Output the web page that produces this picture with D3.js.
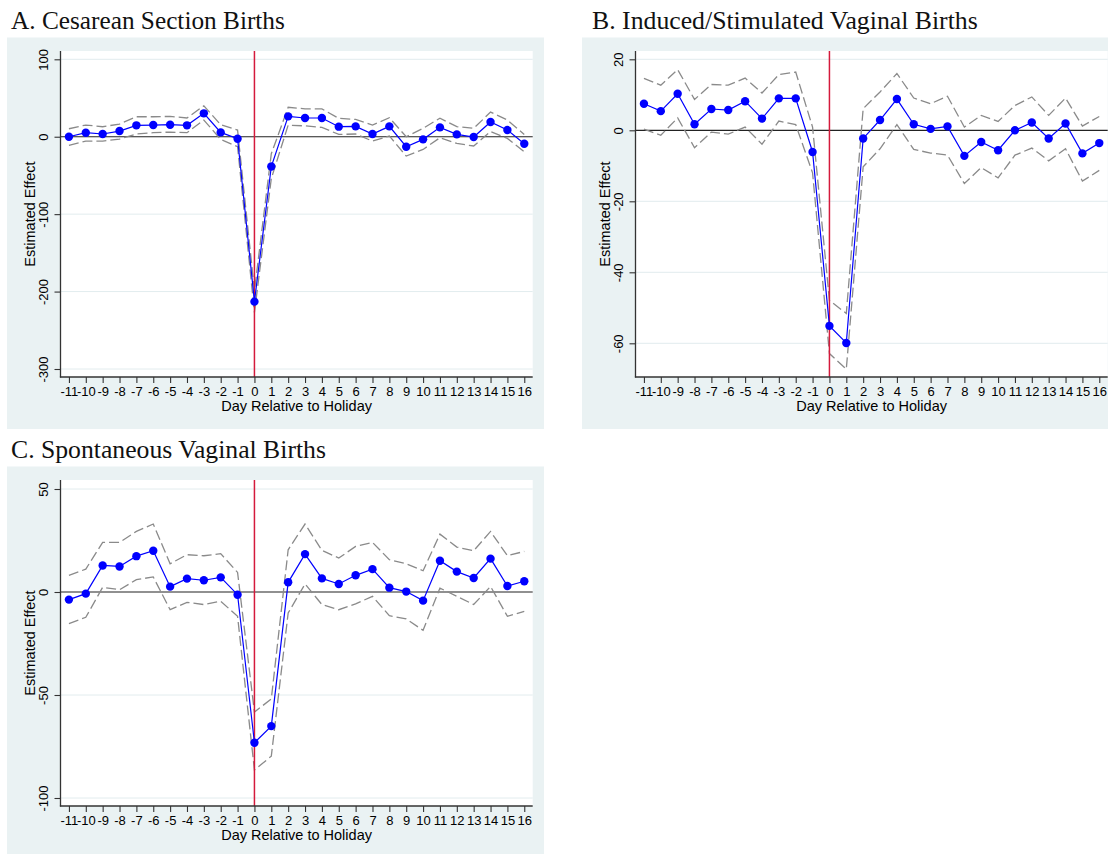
<!DOCTYPE html>
<html><head><meta charset="utf-8">
<script src="https://cdn.jsdelivr.net/npm/d3@7"></script>
<style>body{margin:0;background:#fff;overflow:hidden} svg{display:block}</style>
</head><body><svg id="c" width="1108" height="854"></svg>
<script>
// ---- data ----
const days = [-11,-10,-9,-8,-7,-6,-5,-4,-3,-2,-1,0,1,2,3,4,5,6,7,8,9,10,11,12,13,14,15,16];

const titleA = "A. Cesarean Section Births";
const estA   = [0, 5.2, 3.5, 7.3, 14.7, 15.1, 15.5, 14.7, 30.2, 5.6, -2.6, -213, -38.5, 26.3, 24.2, 24.2, 13, 13.4, 3.5, 13.4, -12.9, -3.4, 12.1, 3, -0.4, 19, 8.6, -9];
const upperA = [10.3, 15.1, 12.9, 16.4, 25.8, 25.8, 26.3, 24.2, 40, 15.5, 8.6, -199, -22, 38, 36, 36, 23.7, 22.4, 15, 24.5, 0, 10.8, 24, 13, 10.8, 31.8, 21.6, 3];
const lowerA = [-11.2, -5.6, -5.6, -3, 3.5, 5.2, 6, 5.2, 21.5, -3.4, -12.9, -227, -54, 15, 14, 12, 3, 3.5, -5.6, 1, -25, -16.4, -1.3, -8.6, -12, 6.8, -2.2, -19.4];
const yTicksA = [100, 0, -100, -200, -300];

const titleB = "B. Induced/Stimulated Vaginal Births";
const estB   = [7.5, 5.4, 10.3, 1.7, 6.0, 5.7, 8.2, 3.3, 9.0, 9.0, -6.1, -55.1, -59.9, -2.3, 2.9, 8.8, 1.7, 0.4, 1.1, -7.2, -3.3, -5.6, 0, 2.2, -2.3, 1.9, -6.5, -3.6];
const upperB = [14.6, 12.7, 17.1, 8.7, 12.9, 12.7, 14.7, 10.5, 15.7, 16.4, 0.9, -47.9, -51.6, 6.1, 10.8, 16, 9.1, 7.5, 9.6, 0.9, 4.2, 2.5, 7, 9.4, 4.2, 9.1, 1.2, 3.9];
const lowerB = [0.3, -1.4, 3.5, -4.9, -0.5, -1.1, 0.9, -3.9, 2.6, 1.6, -12, -62.9, -67.3, -10.3, -5.2, 1.6, -5.4, -6.4, -7, -15, -10.5, -13.4, -7, -5, -8.6, -5.2, -14.3, -11.3];
const yTicksB = [20, 0, -20, -40, -60];

const titleC = "C. Spontaneous Vaginal Births";
const estC   = [-3.7, -0.8, 12.9, 12.4, 17.4, 20, 2.6, 6.5, 5.7, 7.1, -1.3, -73.2, -65.1, 4.7, 18.4, 6.6, 3.9, 8.1, 11.1, 2.1, 0.2, -4.2, 15.2, 9.9, 6.8, 16.2, 2.9, 5.2];
const upperC = [8.1, 11.1, 24.1, 24.1, 29.4, 33, 13.7, 18.1, 17.6, 18.6, 9.5, -58.3, -51.9, 20.5, 33, 20.2, 16.5, 22.1, 24.1, 15.7, 13.7, 10.3, 28.1, 21.8, 20, 29.4, 17.6, 19.7];
const lowerC = [-15.3, -12.3, 2.3, 1.1, 6, 7.3, -8.6, -5, -6.1, -4.5, -11.8, -86.4, -79.7, -10.2, 3.9, -6.1, -8.6, -5.8, -2.1, -11.5, -13.1, -18.6, 1.9, -2.1, -6.1, 2.7, -11.8, -9.4];
const yTicksC = [50, 0, -50, -100];

const xTitle = "Day Relative to Holiday";
const yTitle = "Estimated Effect";

// ---- layout ----
const svg = d3.select("#c");
const SANS = "'Liberation Sans', Arial, sans-serif";
const SERIF = "'Liberation Serif', 'Times New Roman', serif";
const BG = "#eaf2f3";
const FS = 14.5;   // axis titles
const FT = 13;     // tick labels

const panels = [
  {title: titleA, est: estA, up: upperA, lo: lowerA, ticks: yTicksA, ox: 0,   oy: 0,   tx: 11, tw: 274, yr: [59.3, 369]},
  {title: titleB, est: estB, up: upperB, lo: lowerB, ticks: yTicksB, ox: 575, oy: 0,   tx: 17, tw: 386, yr: [59.3, 343.3]},
  {title: titleC, est: estC, up: upperC, lo: lowerC, ticks: yTicksC, ox: 0,   oy: 429, tx: 11, tw: 315, yr: [60, 369]}
];

const PL = 60.5, PR = 532.7, PT = 51, PB = 377;

panels.forEach(p => {
  const g = svg.append("g").attr("transform", `translate(${p.ox},${p.oy})`);
  g.append("rect").attr("x", 7).attr("y", 37.5).attr("width", 537).attr("height", 391.5).attr("fill", BG);
  g.append("rect").attr("x", PL).attr("y", PT).attr("width", PR - PL).attr("height", PB - PT).attr("fill", "#fff");

  const x = d3.scaleLinear().domain([-11.5, 16.5]).range([PL, PR]);
  const tTop = p.ticks[0], tBot = p.ticks[p.ticks.length - 1];
  const y = d3.scaleLinear().domain([tTop, tBot]).range(p.yr);

  // grid
  g.append("g").selectAll("line").data(p.ticks.filter(t => t !== 0)).join("line")
    .attr("x1", PL).attr("x2", PR).attr("y1", d => y(d)).attr("y2", d => y(d))
    .attr("stroke", "#e2ecee").attr("stroke-width", 1);

  // zero line
  g.append("line").attr("x1", PL).attr("x2", PR).attr("y1", y(0)).attr("y2", y(0))
    .attr("stroke", "#222").attr("stroke-width", 1.2);

  const pts = (arr) => days.map((d, i) => [d, arr[i]]);
  const line = d3.line().x(d => x(d[0])).y(d => y(d[1]));

  // CI dashed
  [p.up, p.lo].forEach(arr => {
    g.append("path").attr("d", line(pts(arr))).attr("fill", "none")
      .attr("stroke", "#8a8a8a").attr("stroke-width", 1.3).attr("stroke-dasharray", "10,4");
  });

  // red vertical line
  g.append("line").attr("x1", x(0)).attr("x2", x(0)).attr("y1", PT).attr("y2", PB)
    .attr("stroke", "#d41a3c").attr("stroke-width", 1.5);

  // estimate
  g.append("path").attr("d", line(pts(p.est))).attr("fill", "none")
    .attr("stroke", "#0000ff").attr("stroke-width", 1.2);
  g.append("g").selectAll("circle").data(pts(p.est)).join("circle")
    .attr("cx", d => x(d[0])).attr("cy", d => y(d[1])).attr("r", 4.2).attr("fill", "#0000ff");

  // axes
  const ya = g.append("g").attr("transform", `translate(${PL},0)`)
    .call(d3.axisLeft(y).tickValues(p.ticks).tickSize(6).tickSizeOuter(0).tickFormat(d => String(d)));
  ya.select(".domain").remove();
  ya.selectAll(".tick line").attr("stroke", "#333").attr("stroke-width", 1.1);
  ya.selectAll(".tick text").attr("x", null).attr("dy", null)
    .attr("transform", "translate(-13,0) rotate(-90)").attr("text-anchor", "middle")
    .attr("font-family", SANS).attr("font-size", FT).attr("fill", "#000");
  g.append("line").attr("x1", PL).attr("x2", PL).attr("y1", PT).attr("y2", PB + 0.6)
    .attr("stroke", "#333").attr("stroke-width", 1.3);

  const xa = g.append("g").attr("transform", `translate(0,${PB})`)
    .call(d3.axisBottom(x).tickValues(days).tickSize(6).tickSizeOuter(0).tickFormat(d => String(d)));
  xa.select(".domain").remove();
  xa.selectAll(".tick line").attr("stroke", "#333").attr("stroke-width", 1.1);
  xa.selectAll(".tick text").attr("y", 9.5)
    .attr("font-family", SANS).attr("font-size", FT).attr("fill", "#000");
  g.append("line").attr("x1", PL - 0.6).attr("x2", PR).attr("y1", PB).attr("y2", PB)
    .attr("stroke", "#333").attr("stroke-width", 1.3);

  // axis titles
  g.append("text").attr("x", (PL + PR) / 2).attr("y", 411).attr("text-anchor", "middle")
    .attr("font-family", SANS).attr("font-size", FS).attr("fill", "#000").text(xTitle);
  g.append("text").attr("transform", `translate(34.5,${(PT + PB) / 2}) rotate(-90)`).attr("text-anchor", "middle")
    .attr("font-family", SANS).attr("font-size", FS).attr("fill", "#000").text(yTitle);

  // panel title
  const t = g.append("text").attr("x", p.tx).attr("y", 28.7)
    .attr("font-family", SERIF).attr("font-size", 24).attr("fill", "#111").text(p.title);
  const w = t.node().getComputedTextLength();
  t.attr("font-size", 24 * p.tw / w);
});
</script></body></html>
